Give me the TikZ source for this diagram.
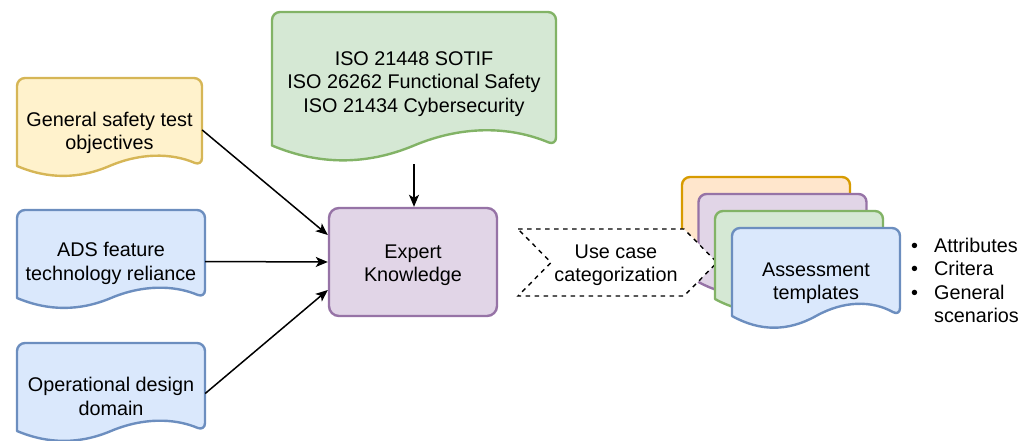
\documentclass[tikz,border=0pt]{standalone}
\usepackage{fontspec}
\setmainfont{Liberation Sans}
\usetikzlibrary{arrows.meta,calc}
\definecolor{yelF}{HTML}{FFF2CC}\definecolor{yelD}{HTML}{D6B656}
\definecolor{bluF}{HTML}{DAE8FC}\definecolor{bluD}{HTML}{6C8EBF}
\definecolor{grnF}{HTML}{D5E8D4}\definecolor{grnD}{HTML}{82B366}
\definecolor{purF}{HTML}{E1D5E7}\definecolor{purD}{HTML}{9673A6}
\definecolor{orgF}{HTML}{FFE6CC}\definecolor{orgD}{HTML}{D79B00}
% x y w h dy fill draw
\newcommand{\docshape}[7]{%
  \pgfmathsetmacro\yb{#2+#4-#5/2}%
  \pgfmathsetmacro\yu{\yb-0.6*#5}%
  \pgfmathsetmacro\yd{\yb+0.6*#5}%
  \pgfmathsetmacro\xa{#1+#3}%
  \pgfmathsetmacro\xb{#1+0.8333*#3}%
  \pgfmathsetmacro\xc{#1+0.6667*#3}%
  \pgfmathsetmacro\xm{#1+0.5*#3}%
  \pgfmathsetmacro\xd{#1+0.3333*#3}%
  \pgfmathsetmacro\xe{#1+0.1667*#3}%
  \filldraw[fill=#6, draw=#7, line width=2.4pt, line join=round, rounded corners=8pt]
    (#1,\yb) -- (#1,#2) -- (\xa,#2) -- (\xa,\yb) [sharp corners]
    .. controls (\xb,\yu) and (\xc,\yu) .. (\xm,\yb)
    .. controls (\xd,\yd) and (\xe,\yd) .. cycle;
}
\tikzset{
  txt/.style={align=center, font=\fontsize{19.8}{23.4}\selectfont, inner sep=0pt},
  arr/.style={-{Stealth[length=12pt,width=10pt,inset=3pt]}, line width=1.5pt},
}
\begin{document}
\begin{tikzpicture}[x=1pt,y=-1pt]
\useasboundingbox (0,0) rectangle (1032,441);

% left documents
\docshape{17}{78}{185}{99}{22}{yelF}{yelD}
\node[txt, minimum width=185pt] (gen) at (109.5,133) {General safety test\\objectives};
\docshape{17}{210}{188}{99}{22}{bluF}{bluD}
\node[txt, minimum width=188pt] (ads) at (111,263.5) {ADS feature\\technology reliance};
\docshape{17}{343}{188}{99}{22}{bluF}{bluD}
\node[txt, minimum width=188pt] (odd) at (111,396.5) {Operational design\\domain};

% standards document
\docshape{272}{12}{284}{150}{33}{grnF}{grnD}
\node[txt, minimum height=160pt] (iso) at (414,84) {ISO 21448 SOTIF\\ISO 26262 Functional Safety\\ISO 21434 Cybersecurity};

% expert knowledge
\node[draw=purD, fill=purF, line width=2.4pt, rounded corners=10pt,
      minimum width=168pt, minimum height=108pt] (exp) at (413,262) {};
\node[txt] (expt) at (413,265.5) {Expert\\Knowledge};

% connectors
\draw[arr] ($(gen.east)+(0,-3)$) -- ($(exp.west)+(0,-27)$);
\draw[arr] ($(ads.east)+(0,-2)$) -- (exp.west);
\draw[arr] ($(odd.east)+(0,-3)$) -- ($(exp.west)+(0,28)$);
\draw[arr] (iso.south) -- (iso.south |- exp.north);

% stacked templates
\docshape{682}{177}{168}{101}{26}{orgF}{orgD}
\docshape{698.5}{194}{168}{101}{26}{purF}{purD}

% use case step
\filldraw[fill=white, draw=black, line width=1.4pt, dash pattern=on 4.5pt off 4.5pt]
  (518,229) -- (684,229) -- (717,262.5) -- (684,296) -- (518,296) -- (551,262.5) -- cycle;
\node[txt] (uc) at (616,265.5) {Use case\\categorization};

\docshape{715}{211}{168}{101}{26}{grnF}{grnD}
\docshape{732}{228}{168}{101}{26}{bluF}{bluD}
\node[txt] (tpl) at (816,283) {Assessment\\templates};

% bullet list
\node[txt, anchor=west, align=left] (bul) at (911,283)
  {\begin{tabular}{@{}l@{\hspace{16pt}}l@{}}
   \textbullet & Attributes\\
   \textbullet & Critera\\
   \textbullet & General\\
               & scenarios
   \end{tabular}};
\end{tikzpicture}
\end{document}
